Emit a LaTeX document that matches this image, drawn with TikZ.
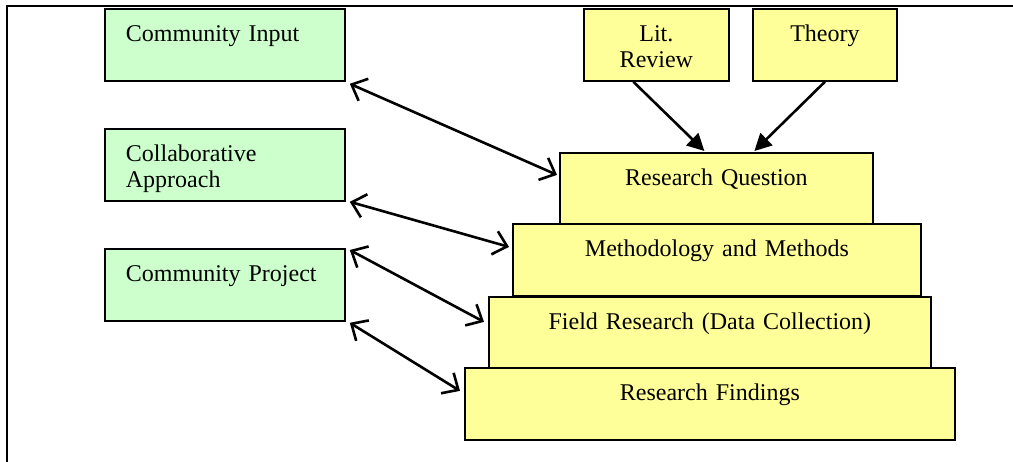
\documentclass[tikz,border=0pt]{standalone}
\usepackage{fontspec}
\setmainfont{Liberation Serif}
\usetikzlibrary{arrows.meta}
\definecolor{pGreen}{HTML}{CCFFCC}
\definecolor{pYellow}{HTML}{FFFF99}
\tikzset{
    box/.style={draw, line width=1.8pt, anchor=north west, inner ysep=0pt,
        text height=33pt, text depth=39pt, font=\fontsize{24}{26}\selectfont},
    gbox/.style={box, fill=pGreen, inner xsep=21pt, text width=198pt, align=left},
    ybox/.style={box, fill=pYellow, inner xsep=6pt, align=center},
    link/.style={line width=2.6pt, {Straight Barb[length=13pt,width=24pt]}-{Straight Barb[length=13pt,width=24pt]}},
    feed/.style={line width=2.6pt, -{Triangle[length=17pt,width=17pt]}}
}

\begin{document}
\begin{tikzpicture}[x=1pt,y=-1pt,scale=1.0]
\useasboundingbox (0,0) rectangle (1013,462);
\draw[line width=2pt] (7,470) -- (7,6) -- (1020,6);
% community side
\node[gbox] (ci) at (104,  8) {Community Input};
\node[gbox] (ca) at (104,128) {Collaborative\\Approach};
\node[gbox] (cp) at (104,248) {Community Project};
% research side
\node[ybox, text width=133pt] (lit) at (583,  8) {Lit.\\Review};
\node[ybox, text width=132pt] (thy) at (752,  8) {Theory};
\node[ybox, text width=301pt] (rq)  at (559,152) {Research Question};
\node[ybox, text width=396pt] (mm)  at (512,223) {Methodology and Methods};
\node[ybox, text width=430pt] (fr)  at (488,296) {Field Research (Data Collection)};
\node[ybox, text width=478pt] (rf)  at (464,367) {Research Findings};
% connectors
\draw[feed] ([xshift=-23pt]lit.south) -- ([shift={(-12,-1)}]rq.north);
\draw[feed] (thy.south) -- ([shift={(38,-1)}]rq.north);
\draw[link] ([shift={(4,2)}]ci.south east) -- ([shift={(-2,-14)}]rq.west);
\draw[link] ([shift={(4,0)}]ca.south east) -- ([shift={(-3,-13)}]mm.west);
\draw[link] ([shift={(4,2)}]cp.north east) -- ([shift={(-4,-11)}]fr.west);
\draw[link] ([shift={(4,1)}]cp.south east) -- ([shift={(-4,-13)}]rf.west);
\end{tikzpicture}
\end{document}
